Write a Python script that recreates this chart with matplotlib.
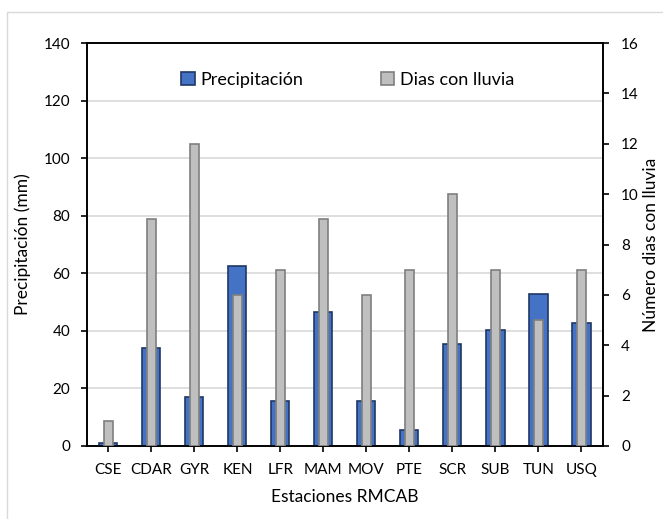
import matplotlib
import matplotlib.pyplot as plt
import numpy as np
from matplotlib.lines import Line2D

matplotlib.rc("font", family=["Lato", "DejaVu Sans"], size=11)

# Data
estaciones = ["CSE", "CDAR", "GYR", "KEN", "LFR", "MAM", "MOV", "PTE",
              "SCR", "SUB", "TUN", "USQ"]
precipitacion = [1.0, 34.0, 17.1, 62.6, 15.8, 46.5, 15.8, 5.7,
                 35.4, 40.3, 52.8, 42.8]
dias_lluvia = [1, 9, 12, 6, 7, 9, 6, 7, 10, 7, 5, 7]

x = np.arange(len(estaciones))

figure = plt.figure(figsize=(6.63, 5.19), dpi=100)
axes = figure.add_axes([0.131, 0.1407, 0.7785, 0.7763])
axes2 = axes.twinx()

# Primary: precipitation (wide blue bars)
axes.bar(x, precipitacion, width=0.42, color="#4472C4", edgecolor="#1F3864",
         linewidth=1.2, label="Precipitación", zorder=3)
axes.set_ylim(0, 140)
axes.set_yticks(range(0, 141, 20))
axes.set_xlim(-0.5, len(estaciones) - 0.5)
axes.set_xticks(x)
axes.set_xticklabels(estaciones)
axes.yaxis.grid(True, color="#D9D9D9", linewidth=1.2, zorder=0)
axes.set_axisbelow(True)
axes.set_ylabel("Precipitación (mm)", fontsize=12.5, labelpad=9)
axes.set_xlabel("Estaciones RMCAB", fontsize=12.5, labelpad=9)

# Secondary: rainy days (narrow gray bars)
axes2.bar(x, dias_lluvia, width=0.22, color="#BFBFBF", edgecolor="#7F7F7F",
          linewidth=1.2, label="Dias con lluvia", zorder=3)
axes2.set_ylim(0, 16)
axes2.set_yticks(range(0, 17, 2))
axes2.set_ylabel("Número dias con lluvia", fontsize=12.5, labelpad=3)

for ax in (axes, axes2):
    for spine in ax.spines.values():
        spine.set_linewidth(1.2)
        spine.set_color("black")
    ax.tick_params(direction="out", length=4, width=1.2)
axes.tick_params(axis="y", pad=8)
axes.tick_params(axis="x", pad=8)
axes2.tick_params(axis="y", pad=9)

# Legend
h1, l1 = axes.get_legend_handles_labels()
h2, l2 = axes2.get_legend_handles_labels()
axes2.legend(h1 + h2, l1 + l2, loc="center", bbox_to_anchor=(0.505, 0.908),
             ncol=2, frameon=False, fontsize=13, handlelength=0.75,
             handleheight=0.75, handletextpad=0.3, columnspacing=4.3)

# Chart border (top and left edges visible)
figure.lines.append(Line2D([0.0106, 0.0106, 1.0], [0.0, 0.977, 0.977],
                           transform=figure.transFigure, color="#D9D9D9",
                           linewidth=1))

figure.savefig("out.png", dpi=100)
